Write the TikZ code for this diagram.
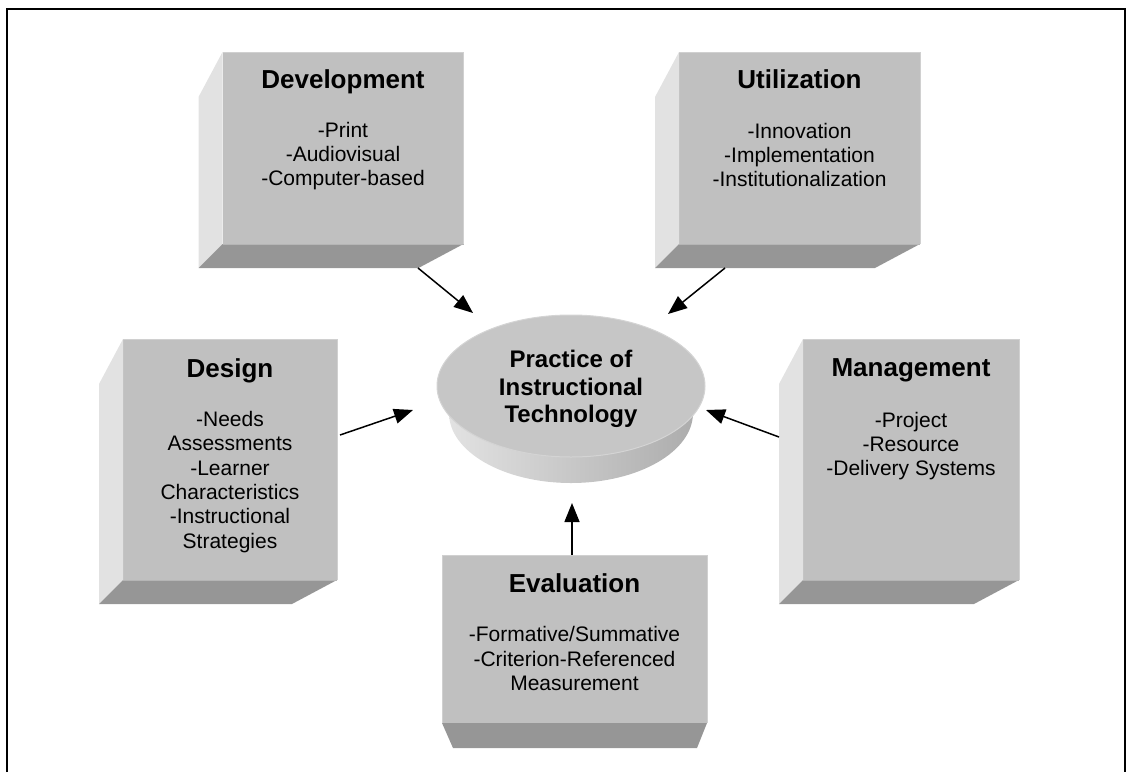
\documentclass[tikz,border=0pt]{standalone}
\usepackage{fontspec}
\setmainfont{Liberation Sans}
\usetikzlibrary{arrows.meta,calc,shapes.geometric}
\definecolor{frontc}{HTML}{C0C0C0}
\definecolor{leftc}{HTML}{E2E2E2}
\definecolor{botc}{HTML}{969696}
\definecolor{rimc}{HTML}{D0D0D0}
\definecolor{disctop}{HTML}{C6C6C6}
\definecolor{discrim}{HTML}{D4D4D4}
\begin{document}
\begin{tikzpicture}[x=1pt,y=-1pt,
  frontbox/.style={rectangle, fill=frontc, draw=none, inner sep=0pt, outer sep=0pt},
  leftface/.style={fill=leftc},
  botface/.style={fill=botc},
  rim/.style={draw=rimc, line width=1pt},
  titletext/.style={font=\fontsize{26}{30}\selectfont\bfseries, inner sep=0pt, align=center},
  bodytext/.style={font=\fontsize{21}{24.3}\selectfont, inner sep=0pt, align=center},
  coretext/.style={font=\fontsize{24}{27.5}\selectfont\bfseries, inner sep=0pt, align=center},
  conn/.style={line width=1.5pt, -{Triangle[length=19pt,width=15pt]}},
  frame/.style={line width=1.6pt}]
\useasboundingbox (0,0) rectangle (1128,772);

% outer frame
\draw[frame] (7,772) -- (7,9) -- (1125,9) -- (1125,772);

% ---------- front faces (nodes) ----------
\node[frontbox, minimum width=241pt, minimum height=192pt] (dev) at (343,148) {};
\node[frontbox, minimum width=241pt, minimum height=192pt] (util) at (799.5,148) {};
\node[frontbox, minimum width=214pt, minimum height=241pt] (des) at (230,459.5) {};
\node[frontbox, minimum width=216pt, minimum height=241pt] (mgt) at (911,459.5) {};
\node[frontbox, minimum width=265pt, minimum height=168pt] (eva) at (574.5,639) {};

% ---------- side and bottom faces ----------
\foreach \b in {dev,util,des,mgt}{
  \fill[leftface] (\b.north west) -- ++(-24,45) -- ($(\b.south west)+(-24,24)$) -- (\b.south west) -- cycle;
  \fill[botface] (\b.south west) -- ++(-24,24) -- ($(\b.south east)+(-45,24)$) -- (\b.south east) -- cycle;
  \draw[rim] (\b.north west) -- (\b.north east) -- (\b.south east);
  \draw[draw=botc!70!white, line width=0.8pt] (\b.south west) -- (\b.south east);
}
\fill[botface] (eva.south west) -- ++(11,25) -- ($(eva.south east)+(-10,25)$) -- (eva.south east) -- cycle;
\draw[rim] (eva.south west) -- (eva.north west) -- (eva.north east) -- (eva.south east);

% ---------- texts ----------
\node[titletext] (devT) at (343,81.5) {Development};
\node[bodytext] (devB) at (343,156) {-Print\\-Audiovisual\\-Computer-based};
\node[titletext] (utilT) at (799.5,79) {Utilization};
\node[bodytext] (utilB) at (799.5,155) {-Innovation\\-Implementation\\-Institutionalization};
\node[titletext] (desT) at (230,370.5) {Design};
\node[bodytext] (desB) at (230,482) {-Needs\\Assessments\\-Learner\\Characteristics\\-Instructional\\Strategies};
\node[titletext] (mgtT) at (911,370.5) {Management};
\node[bodytext] (mgtB) at (911,446) {-Project\\-Resource\\-Delivery Systems};
\node[titletext] (evaT) at (574.5,583) {Evaluation};
\node[bodytext] (evaB) at (574.5,658.5) {-Formative/Summative\\-Criterion-Referenced\\Measurement};

% ---------- central disc ----------
\shade[left color=leftc, right color=frontc!90!black] (571,413) ellipse [x radius=122, y radius=70];
\shade[left color=leftc, right color=frontc!95!black] (437,386) -- (449,413) -- (693,413) -- (705,386) -- cycle;
\fill[disctop] (571,386) ellipse [x radius=134, y radius=71];
\draw[discrim, line width=1pt] (571,386) ellipse [x radius=134, y radius=71];
\node[coretext] (core) at (571,389) {Practice of\\Instructional\\Technology};

% ---------- connector end points ----------
\coordinate (devA) at (418,268);
\coordinate (devZ) at (473,313);
\coordinate (utilA) at (725,268);
\coordinate (utilZ) at (668,314);
\coordinate (desA) at (340,435);
\coordinate (desZ) at (413,410);
\coordinate (mgtA) at (779,437);
\coordinate (mgtZ) at (706,410);
\coordinate (evaA) at (572,555);
\coordinate (evaZ) at (572,503);

\draw[conn] (devA) -- (devZ);
\draw[conn] (utilA) -- (utilZ);
\draw[conn] (desA) -- (desZ);
\draw[conn] (mgtA) -- (mgtZ);
\draw[conn] (evaA) -- (evaZ);
\end{tikzpicture}
\end{document}
